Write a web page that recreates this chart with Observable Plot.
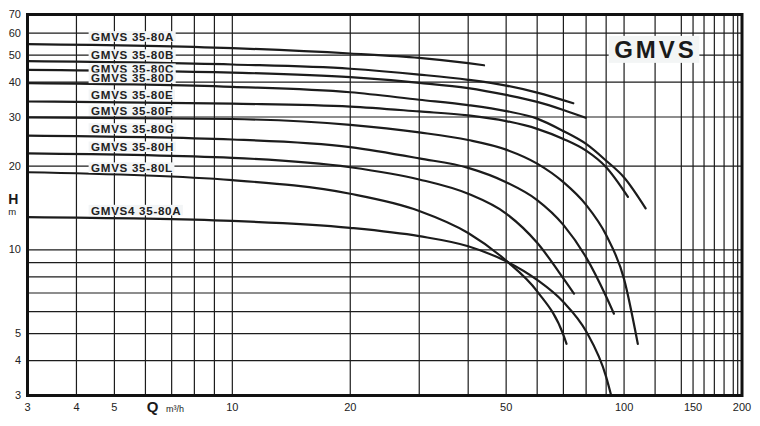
<!DOCTYPE html>
<html><head><meta charset="utf-8">
<script src="https://cdn.jsdelivr.net/npm/d3@7"></script>
<script src="https://cdn.jsdelivr.net/npm/@observablehq/plot@0.6"></script>
<style>
body{margin:0;background:#fff;}
#chart svg{font-family:"Liberation Sans",Arial,sans-serif;}
</style>
</head><body><div id="chart"></div>
<script>
// Tick labels and grid lines
const xTicks = [3,4,5,10,20,50,100,150,200];
const yTicks = [3,4,5,10,20,30,40,50,60,70];
const xGrid = [4,5,6,7,8,9,10,20,30,40,50,60,70,80,90,100,120,140,150,160,170,180,190,195];
const yGrid = [4,5,6,7,8,9,10,20,30,40,50,60];

// Curve names
const names = ["GMVS 35-80A","GMVS 35-80B","GMVS 35-80C","GMVS 35-80D","GMVS 35-80E",
               "GMVS 35-80F","GMVS 35-80G","GMVS 35-80H","GMVS 35-80L","GMVS4 35-80A"];

// Flow Q (m³/h) and head H (m) per curve
const qA = [3,10,20,30,40,43.9];
const hA = [54.8,53.0,50.7,48.9,46.8,46.0];
const qB = [3,10,20,30,40,50,60,74.2];
const hB = [47.6,46.3,44.7,42.6,40.8,38.9,36.7,33.6];
const qC = [3,10,20,30,40,50,60,70,79.8];
const hC = [44.3,43.3,41.7,39.8,38.1,36.0,34.0,31.8,29.8];
const qD = [3,10,20,30,40,50,60,70,80,90,100,113.5];
const hD = [39.7,38.5,36.8,34.6,33.1,31.5,29.6,26.7,24.0,20.9,18.2,14.1];
const qE = [3,10,20,30,40,50,60,70,80,90,102.3];
const hE = [34.1,33.5,32.7,31.4,30.4,29.0,27.2,25.0,22.7,19.8,15.5];
const qF = [3,10,20,30,40,50,60,70,80,90,100,108.4];
const hF = [29.9,29.5,28.1,26.4,24.8,22.9,20.4,17.5,14.5,11.3,7.85,4.6];
const qG = [3,10,20,30,40,50,60,70,80,90,94.2];
const hG = [25.7,24.9,23.4,21.3,19.7,17.5,15.1,12.3,9.4,6.8,5.9];
const qH = [3,10,20,30,40,50,60,70,74.5];
const hH = [22.2,21.4,19.8,17.9,15.9,13.5,10.6,7.9,6.96];
const qL = [3,10,20,30,40,50,60,70,71.3];
const hL = [19.0,17.8,15.9,13.8,11.5,9.15,7.1,4.95,4.6];
const q4A = [3,10,20,30,40,50,60,70,80,90,92.7];
const h4A = [13.1,12.7,12.0,11.2,10.3,9.1,7.8,6.5,5.1,3.5,3.0];

// Label anchor (head value where each name sits, flow where it starts)
const labelQ = 4.36;
const labelH = [58.0,49.9,44.4,41.2,35.8,31.4,27.1,23.3,19.6,13.8];

const qs = [qA,qB,qC,qD,qE,qF,qG,qH,qL,q4A];
const hs = [hA,hB,hC,hD,hE,hF,hG,hH,hL,h4A];
const points = names.flatMap((name,k) => qs[k].map((q,i) => ({name, q, h: hs[k][i]})));
const labels = names.map((name,k) => ({name, q: labelQ, h: labelH[k]}));

const ink = "#1c1c1c";
const chart = Plot.plot({
  width: 760, height: 426,
  marginLeft: 27, marginRight: 18.5, marginTop: 14, marginBottom: 31,
  style: {fontFamily: "Liberation Sans, Arial, sans-serif", fontSize: "11px", color: "#222", background: "#fff"},
  x: {type: "log", domain: [3, 200], axis: null},
  y: {type: "log", domain: [3, 70], axis: null},
  marks: [
    Plot.ruleX(xGrid, {stroke: ink, strokeWidth: 1.2}),
    Plot.ruleY(yGrid, {stroke: ink, strokeWidth: 1.2}),
    Plot.line(points, {x: "q", y: "h", z: "name", stroke: ink, strokeWidth: 2.2, curve: "monotone-x", clip: true}),
    Plot.text(labels, {x: "q", y: "h", text: "name", textAnchor: "start", lineAnchor: "middle",
      fontWeight: "bold", fontSize: 11.6, fill: "#222", className: "curve-label"}),
    Plot.text(["GMVS"], {frameAnchor: "top-right", dx: -86.5, dy: 35.7, textAnchor: "middle", lineAnchor: "middle",
      fontWeight: "bold", fontSize: 24, fill: "#1a1a1a", className: "big-label"}),
    Plot.frame({stroke: "#111", strokeWidth: 3}),
    // axis tick labels
    Plot.text(xTicks, {x: d => d, frameAnchor: "bottom", dy: 11.5, textAnchor: "middle", lineAnchor: "middle",
      text: d => String(d), fontSize: 11, fill: "#222"}),
    Plot.text(yTicks, {y: d => d, frameAnchor: "left", dx: -6.5, textAnchor: "end", lineAnchor: "middle",
      text: d => String(d), fontSize: 11, fill: "#222"}),
    // axis titles
    Plot.text(["H"], {frameAnchor: "left", dx: -14.2, dy: -5.5, textAnchor: "middle", lineAnchor: "middle", fontWeight: "bold", fontSize: 14, fill: "#1a1a1a"}),
    Plot.text(["m"], {frameAnchor: "left", dx: -15.3, dy: 7, textAnchor: "middle", lineAnchor: "middle", fontSize: 9.5, fill: "#222"}),
    Plot.text(["Q"], {frameAnchor: "bottom-left", dx: 125, dy: 11.5, textAnchor: "middle", lineAnchor: "middle", fontWeight: "bold", fontSize: 15, fill: "#1a1a1a"}),
    Plot.text(["m³/h"], {frameAnchor: "bottom-left", dx: 138.5, dy: 13.5, textAnchor: "start", lineAnchor: "middle", fontSize: 9, fill: "#222"})
  ]
});
document.getElementById("chart").appendChild(chart);

// Light boxes behind the labels
const svg = d3.select(chart);
svg.selectAll("g.curve-label text").style("letter-spacing", "0.7px").each(function() {
  const b = this.getBBox();
  d3.select(this.parentNode).insert("rect", () => this)
    .attr("x", b.x - 2.5).attr("y", b.y + 1.2).attr("width", b.width + 4).attr("height", b.height - 2.4)
    .attr("transform", this.getAttribute("transform"))
    .attr("fill", "#f3f5f6");
});
svg.selectAll("g.big-label text").style("letter-spacing", "3px").each(function() {
  const b = this.getBBox();
  d3.select(this.parentNode).insert("rect", () => this)
    .attr("x", b.x - 5.5).attr("y", b.y).attr("width", b.width + 8).attr("height", b.height)
    .attr("transform", this.getAttribute("transform"))
    .attr("fill", "#f3f5f5");
});
</script>
</body></html>
